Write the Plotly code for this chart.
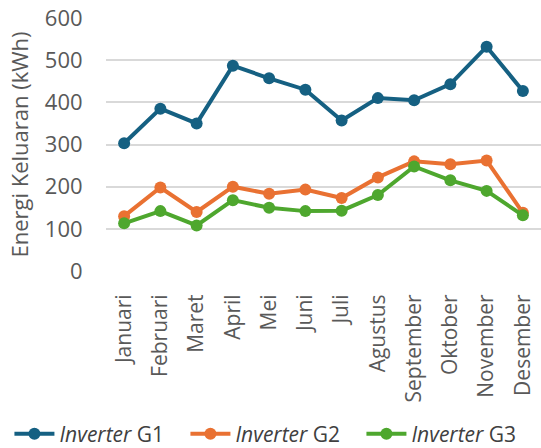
import plotly.graph_objects as go

BULAN = ["Januari", "Februari", "Maret", "April", "Mei", "Juni", "Juli",
         "Agustus", "September", "Oktober", "November", "Desember"]
G1 = [303, 385, 350, 487, 457, 430, 357, 410, 405, 443, 532, 427]
G2 = [130, 198, 140, 200, 183, 193, 173, 222, 260, 253, 262, 138]
G3 = [113, 142, 108, 168, 150, 142, 143, 180, 248, 215, 190, 132]

SERIES = [
    ("<i>Inverter</i> G1", G1, "#156082"),
    ("<i>Inverter</i> G2", G2, "#E97132"),
    ("<i>Inverter</i> G3", G3, "#4EA72E"),
]

TEXT_GRAY = "#595959"
GRID = "#D9D9D9"
FONT = "Open Sans, Noto Sans, sans-serif"

fig = go.Figure()
for name, vals, color in SERIES:
    fig.add_trace(go.Scatter(
        x=BULAN, y=vals, mode="lines+markers", name=name,
        line=dict(color=color, width=4),
        marker=dict(color=color, size=12),
    ))

fig.update_layout(
    width=541, height=448,
    paper_bgcolor="white", plot_bgcolor="white",
    font=dict(family=FONT, color=TEXT_GRAY, size=21),
    margin=dict(l=106, r=0, t=18, b=177, autoexpand=False),
    showlegend=True,
    legend=dict(
        orientation="h", x=-0.222, xanchor="left",
        y=-0.645, yanchor="middle",
        font=dict(size=21, color="#404040"),
        itemwidth=40, tracegroupgap=0, entrywidth=121,
    ),
)
fig.update_xaxes(
    range=[-0.5, 11.5], tickangle=-90, showgrid=False, automargin=False,
    ticks="outside", ticklen=14, tickcolor="rgba(0,0,0,0)",
    showline=False, zeroline=False,
)
fig.update_yaxes(
    range=[0, 600], dtick=100, gridcolor=GRID, gridwidth=2, automargin=False,
    zeroline=False, showline=False, tickfont=dict(size=22),
    ticks="outside", ticklen=18, tickcolor="rgba(0,0,0,0)",
    title=dict(text="Energi Keluaran (kWh)", standoff=10, font=dict(size=22)),
)

# halaman tanpa margin bawaan browser
fig.write_html("out.html", config={"displayModeBar": False},
               post_script="document.body.style.margin='0';")
